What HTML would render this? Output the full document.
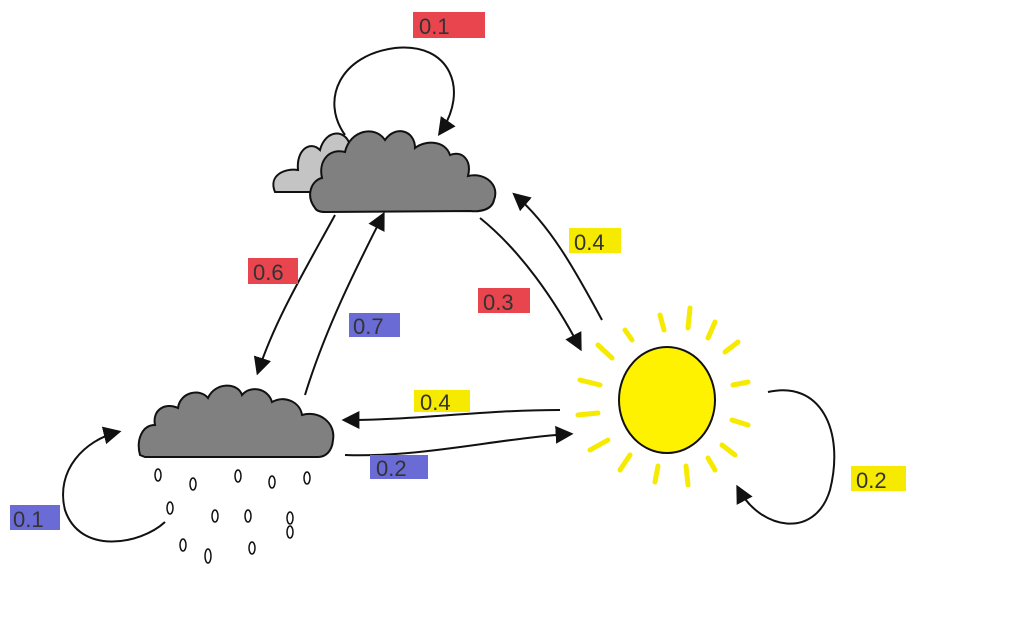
<!DOCTYPE html>
<html><head><meta charset="utf-8"><style>
html,body{margin:0;padding:0;background:#fff;width:1024px;height:638px;overflow:hidden}
svg{display:block}
text{font-family:"Liberation Sans",sans-serif;font-size:22px;fill:#333}
</style></head><body>
<svg width="1024" height="638" viewBox="0 0 1024 638">
<defs>
<marker id="ah" viewBox="0 0 10 10" refX="8" refY="5" markerWidth="9" markerHeight="9" orient="auto-start-reverse">
<path d="M0,0 L10,5 L0,10 z" fill="#111"/></marker>
</defs>
<g>
<path d="M275,192 C268,175 285,168 298,170 C296,150 310,140 320,150 C325,130 345,128 350,145 L350,192 Z" fill="#c4c4c4" stroke="#111" stroke-width="2"/>
<path d="M315,208 C305,195 312,180 322,178 C318,160 330,148 345,152 C350,130 375,125 385,140 C395,125 415,130 415,148 C425,140 445,140 450,155 C462,150 472,160 468,176 C485,172 500,185 494,200 C492,210 480,212 470,211 L325,212 C318,212 316,210 315,208 Z" fill="#808080" stroke="#111" stroke-width="2"/>
</g>
<g>
<path d="M140,455 C136,440 142,425 155,425 C152,410 165,402 178,408 C180,392 200,388 208,398 C215,382 238,382 242,395 C250,385 268,388 272,402 C285,395 300,402 302,415 C318,410 336,422 333,440 C332,452 325,457 318,457 L145,457 Z" fill="#808080" stroke="#111" stroke-width="2"/>
<g fill="none" stroke="#111" stroke-width="1.5">
<ellipse cx="158" cy="475" rx="3" ry="6"/><ellipse cx="193" cy="484" rx="3" ry="6"/><ellipse cx="238" cy="476" rx="3" ry="6"/><ellipse cx="272" cy="482" rx="3" ry="6"/><ellipse cx="307" cy="478" rx="3" ry="6"/>
<ellipse cx="170" cy="508" rx="3" ry="6"/><ellipse cx="215" cy="516" rx="3" ry="6"/><ellipse cx="248" cy="516" rx="3" ry="6"/><ellipse cx="290" cy="518" rx="3" ry="6"/><ellipse cx="183" cy="545" rx="3" ry="6"/><ellipse cx="208" cy="556" rx="3" ry="7"/><ellipse cx="252" cy="548" rx="3" ry="6"/><ellipse cx="290" cy="532" rx="3" ry="6"/>
</g>
</g>
<g>
<g stroke="#f5ea00" stroke-width="5" stroke-linecap="round" fill="none">
<path d="M625,330 L632,340"/><path d="M660,315 L664,330"/><path d="M690,308 L688,328"/><path d="M715,322 L708,338"/><path d="M738,342 L725,352"/><path d="M748,382 L733,385"/><path d="M748,425 L732,420"/><path d="M735,455 L722,445"/><path d="M715,470 L708,458"/><path d="M688,485 L686,466"/><path d="M655,482 L658,466"/><path d="M620,470 L630,455"/><path d="M590,450 L608,440"/><path d="M578,415 L598,413"/><path d="M580,380 L600,385"/><path d="M598,345 L612,358"/>
</g>
<ellipse cx="667" cy="400" rx="48" ry="53" fill="#fff200" stroke="#111" stroke-width="2"/>
</g>
<g fill="none" stroke="#111" stroke-width="2">
<path d="M345,135 C320,100 340,55 395,48 C450,42 470,90 440,133" marker-end="url(#ah)"/>
<path d="M335,215 C305,270 275,320 258,372" marker-end="url(#ah)"/>
<path d="M305,395 C325,330 355,270 383,215" marker-end="url(#ah)"/>
<path d="M480,218 C520,250 555,300 580,348" marker-end="url(#ah)"/>
<path d="M602,320 C575,270 550,225 515,195" marker-end="url(#ah)"/>
<path d="M345,455 C420,458 500,438 570,434" marker-end="url(#ah)"/>
<path d="M560,410 C480,410 420,420 345,420" marker-end="url(#ah)"/>
<path d="M165,522 C140,545 80,555 65,510 C55,470 85,440 118,432" marker-end="url(#ah)"/>
<path d="M768,392 C820,380 845,430 830,490 C815,540 760,530 738,488" marker-end="url(#ah)"/>
</g>
<g>
<rect x="413" y="12" width="72" height="26" fill="#e8454f"/><text x="419" y="34">0.1</text>
<rect x="248" y="258" width="50" height="26" fill="#e8454f"/><text x="253" y="280">0.6</text>
<rect x="349" y="313" width="51" height="24" fill="#6b6bd6"/><text x="353" y="334">0.7</text>
<rect x="478" y="288" width="52" height="25" fill="#e8454f"/><text x="483" y="310">0.3</text>
<rect x="569" y="228" width="52" height="25" fill="#f5ea00"/><text x="574" y="250">0.4</text>
<rect x="414" y="390" width="56" height="22" fill="#f5ea00"/><text x="420" y="410">0.4</text>
<rect x="370" y="455" width="58" height="24" fill="#6b6bd6"/><text x="376" y="476">0.2</text>
<rect x="10" y="505" width="50" height="25" fill="#6b6bd6"/><text x="13" y="527">0.1</text>
<rect x="851" y="466" width="55" height="25" fill="#f5ea00"/><text x="856" y="488">0.2</text>
</g>
</svg>
</body></html>
